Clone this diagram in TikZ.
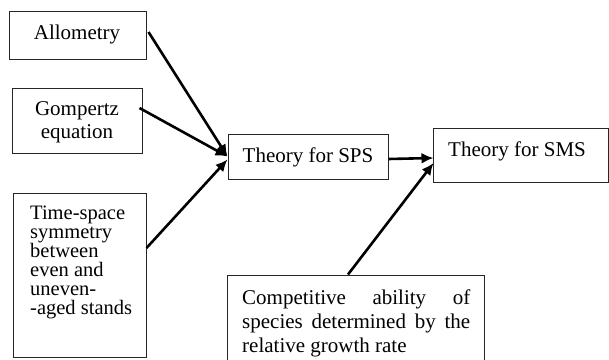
\documentclass[tikz,border=0pt]{standalone}
\usepackage{fontspec}
\setmainfont{Liberation Serif}
\usetikzlibrary{calc,arrows.meta}
\begin{document}
\begin{tikzpicture}[x=1pt,y=-1pt,
  box/.style={draw=black!85,line width=1pt,rectangle,inner sep=0pt},
  txt/.style={inner sep=0pt,font=\fontsize{21}{24}\selectfont},
  conn/.style={line width=2.6pt,-{Latex[length=12pt,width=11pt]}}]
\useasboundingbox (0,0) rectangle (609,359);
% boxes
\node[box,minimum width=137pt,minimum height=48pt] (allo) at (77.5,35) {};
\node[box,minimum width=130pt,minimum height=65pt] (gomp) at (77,120.5) {};
\node[box,minimum width=133pt,minimum height=164pt] (ts) at (79.5,275) {};
\node[box,minimum width=160pt,minimum height=45pt] (sps) at (308,156.5) {};
\node[box,minimum width=175.5pt,minimum height=54pt] (sms) at (520.75,155) {};
\node[box,minimum width=257pt,minimum height=120pt] (comp) at (355.5,335) {};
% texts
\node[txt,anchor=base] (allot) at (77,39) {Allometry};
\node[txt,anchor=base] (gompt1) at (77,115) {Gompertz};
\node[txt,anchor=base] (gompt2) at (77,138) {equation};
\node[txt,anchor=north west,align=left,font=\fontsize{20.5}{19}\selectfont] (tst) at (30,206) {Time-space\\symmetry\\between\\even and\\uneven-\\-aged stands};
\node[txt,anchor=base] (spst) at (308,162) {Theory for SPS};
\node[txt,anchor=base west] (smst) at (448,156) {Theory for SMS};
\node[txt,anchor=north west,text width=228pt,align=justify] (compt) at (242,290) {\hyphenpenalty=10000 Competitive ability of species determined by the relative growth rate};
% connectors
\draw[conn] ($(allo.east)+(2,-3)$) -- ($(sps.west)+(0,0)$);
\draw[conn] ($(gomp.east)+(-3,-12.5)$) -- ($(sps.west)+(0,0)$);
\draw[conn] ($(ts.east)+(0,-27)$) -- ($(sps.west)+(0,3)$);
\draw[conn] ($(sps.east)+(0,2.5)$) -- ($(sms.west)+(1,3)$);
\draw[conn] ($(comp.north)+(-7.5,0)$) -- ($(sms.west)+(1,8)$);
\end{tikzpicture}
\end{document}
